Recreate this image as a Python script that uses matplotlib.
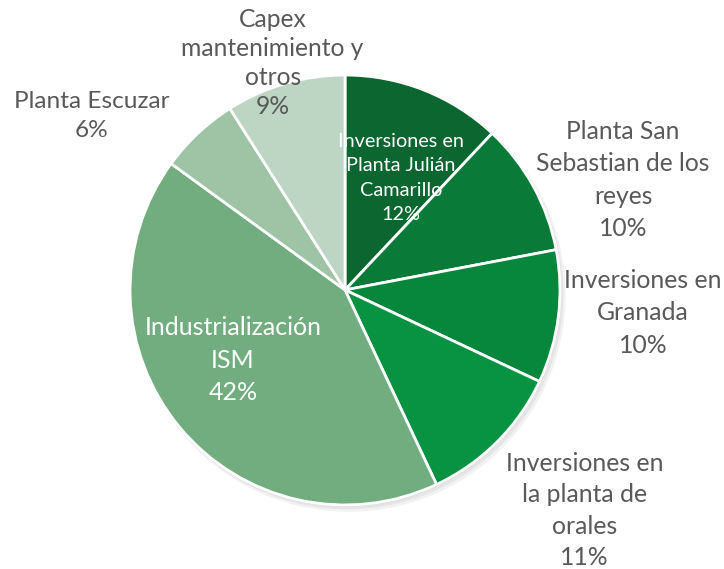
import matplotlib
matplotlib.use("Agg")
import matplotlib.pyplot as plt
from matplotlib.patches import Circle

# data
labels = ["Inversiones en\nPlanta Julián\nCamarillo",
          "Planta San\nSebastian de los\nreyes",
          "Inversiones en\nGranada",
          "Inversiones en\nla planta de\norales",
          "Industrialización\nISM",
          "Planta Escuzar",
          "Capex\nmantenimiento y\notros"]
shares = [12, 10, 10, 11, 42, 6, 9]

colors = ["#0c6630", "#0a7a38", "#07873b", "#079341", "#72ad80", "#9fc4a5", "#bdd6c4"]
# label centres in pie-radius units
label_pos = [(0.26, 0.521), (1.293, 0.512), (1.386, -0.107), (1.114, -1.026),
             (-0.521, -0.326), (-1.179, 0.809), (-0.337, 1.056)]
text_colors = ["white", "#595959", "#595959", "#595959", "white", "#595959", "#595959"]
font_sizes = [14.3, 17.7, 17.8, 17.8, 18, 17.6, 17.7]
spacings = [1.53, 1.49, 1.49, 1.45, 1.49, 1.49, 1.33]

plt.rcParams['font.family'] = ['Lato', 'DejaVu Sans']

fig = plt.figure(figsize=(7.24, 5.69), dpi=100)
ax = fig.add_axes([0, 0, 1, 1])

# soft shadow under the pie
for k, a in enumerate([0.05, 0.05, 0.05]):
    ax.add_patch(Circle((0.006 * (k + 1), -0.008 * (k + 1)), 1.0 + 0.004 * k,
                        color="black", alpha=a, lw=0))

ax.pie(shares, colors=colors, startangle=90, counterclock=False, radius=1,
       wedgeprops=dict(edgecolor="white", linewidth=2))

total = sum(shares)
for lab, v, (x, y), c, fs, ls in zip(labels, shares, label_pos, text_colors, font_sizes, spacings):
    ax.text(x, y, f"{lab}\n{round(100 * v / total)}%", ha="center", va="center",
            color=c, fontsize=fs, linespacing=ls)

ax.set_xlim(-1.605, 1.763)
ax.set_ylim(-1.298, 1.349)
ax.set_aspect("auto")
ax.axis("off")

fig.savefig("out.png", dpi=100)
